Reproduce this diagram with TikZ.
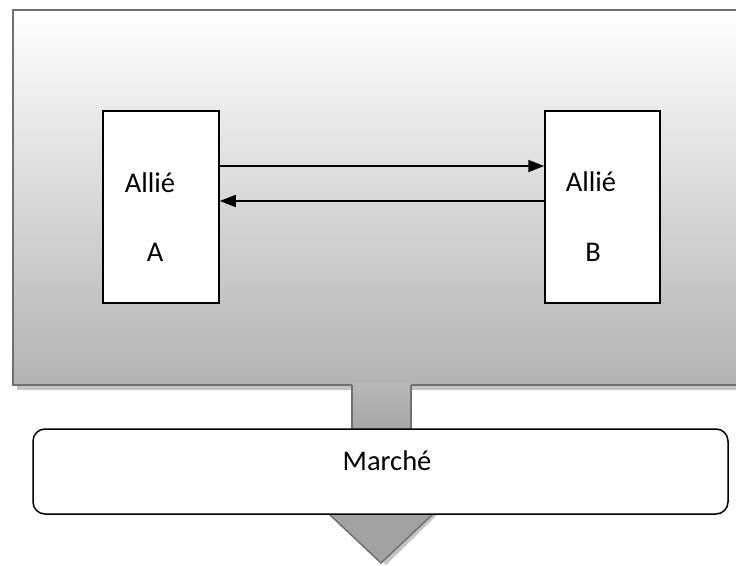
\documentclass[tikz,border=0pt]{standalone}
\usepackage{fontspec}
\setmainfont{Carlito}
\usetikzlibrary{arrows.meta}

\definecolor{frameline}{HTML}{707070}
\definecolor{shadowgray}{HTML}{C4C4C4}
\definecolor{arrowfill}{HTML}{A2A2A2}

\tikzset{
    ally/.style={draw=black, line width=1.5pt, fill=white, minimum width=116pt, minimum height=192pt, inner sep=0pt},
    market/.style={draw=black, line width=1.5pt, fill=white, rounded corners=12pt, minimum width=695pt, minimum height=85pt, inner sep=0pt},
    link/.style={line width=1.6pt, -{Triangle[length=16pt, width=12pt]}},
    word/.style={font=\fontsize{28.5}{34}\selectfont, inner sep=0pt}
}

\begin{document}
\begin{tikzpicture}[x=1pt, y=-1pt]
    \useasboundingbox (0,0) rectangle (736,565);
    \clip (0,0) rectangle (736,565);

    % big panel with its shadow
    \fill[shadowgray] (17,14) rectangle (760,390);
    \shade[top color=white, middle color=black!11, bottom color=black!30] (13,10) rectangle (755,385);
    \draw[frameline, line width=2pt] (13,10) rectangle (755,385);

    % stem down to the market
    \shade[top color=black!28, bottom color=black!35] (352,383) rectangle (411,430);
    \draw[frameline, line width=1.5pt] (352,385) -- (352,430);
    \draw[frameline, line width=1.5pt] (411,385) -- (411,430);

    % arrow head under the market
    \fill[shadowgray] (334,514) -- (438,514) -- (386,565) -- cycle;
    \draw[frameline, fill=arrowfill, line width=1.5pt] (329,514) -- (433,514) -- (381,563) -- cycle;

    \node[market] (market) at (380.5,471.5) {};
    \node[word] (marketname) at (387,461) {Marché};

    \node[ally] (allyA) at (161,207) {};
    \node[ally, minimum width=115pt] (allyB) at (602.5,207) {};

    \node[word] (allyAname) at (150,183) {Allié};
    \node[word] (allyAletter) at (155,252) {A};
    \node[word] (allyBname) at (591,182) {Allié};
    \node[word] (allyBletter) at (593,252) {B};

    \draw[link] ([yshift=41pt]allyA.east) -- ([yshift=41pt]allyB.west);
    \draw[link] ([yshift=6pt]allyB.west) -- ([yshift=6pt]allyA.east);
\end{tikzpicture}
\end{document}
